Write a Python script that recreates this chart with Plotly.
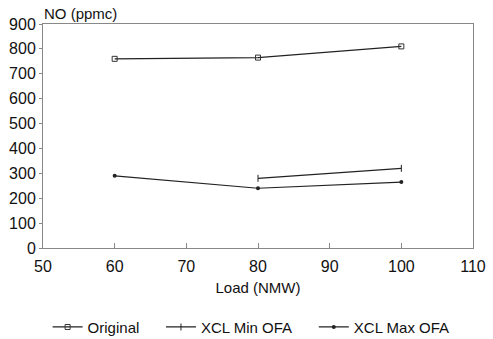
import plotly.graph_objects as go

load_orig = [60, 80, 100]
no_orig = [760, 765, 810]
load_min = [80, 100]
no_min = [280, 320]
load_max = [60, 80, 100]
no_max = [290, 240, 265]

pad = "\u00a0" * 4
fig = go.Figure()
fig.add_trace(go.Scatter(x=load_orig, y=no_orig, mode="lines+markers", name="Original" + pad,
                         line=dict(color="#222", width=1.2),
                         marker=dict(symbol="square-open", size=5, color="#333", line=dict(width=1))))
fig.add_trace(go.Scatter(x=load_min, y=no_min, mode="lines+markers", name="XCL Min OFA" + pad,
                         line=dict(color="#222", width=1.2),
                         marker=dict(symbol="line-ns", size=5, color="#222", line=dict(width=1, color="#222"))))
fig.add_trace(go.Scatter(x=load_max, y=no_max, mode="lines+markers", name="XCL Max OFA",
                         line=dict(color="#222", width=1.2),
                         marker=dict(symbol="circle", size=4, color="#222")))

font = dict(family="Arial, Liberation Sans, sans-serif", size=16, color="#111")
fig.update_layout(
    width=493, height=339,
    margin=dict(l=43, r=20, t=24, b=91, autoexpand=False),
    paper_bgcolor="white", plot_bgcolor="white",
    font=font,
    showlegend=True,
    legend=dict(orientation="h", x=0.484, xanchor="center", y=-0.28, yanchor="top",
                font=dict(size=15), itemwidth=30, tracegroupgap=0),
    xaxis=dict(range=[50, 110], dtick=10, showgrid=False, zeroline=False,
               showline=True, linecolor="#888", linewidth=1, mirror=True,
               ticks="inside", ticklen=5, tickcolor="#888", ticklabelstandoff=4,
               title=dict(text="Load (NMW)", font=dict(size=15), standoff=8)),
    yaxis=dict(range=[0, 900], dtick=100, showgrid=False, zeroline=False,
               showline=True, linecolor="#888", linewidth=1, mirror=True,
               ticks="outside", ticklen=3, tickcolor="#888"),
    annotations=[dict(text="NO (ppmc)", xref="paper", yref="paper", x=-0.003, y=1.0,
                      xanchor="left", yanchor="bottom", showarrow=False, font=dict(size=15))],
)
fig.write_html("out.html")
